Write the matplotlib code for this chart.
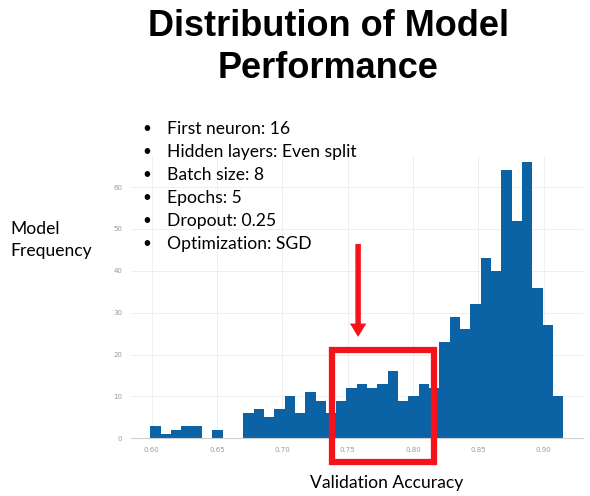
import numpy as np
import matplotlib.pyplot as plt
from matplotlib.patches import Rectangle, FancyArrow

# histogram of validation accuracy (40 bins)
bin_lo, bin_hi = 0.599, 0.915
counts = [3, 1, 2, 3, 3, 0, 2, 0, 0, 6,
          7, 5, 7, 10, 6, 11, 9, 6, 9, 12,
          13, 12, 13, 16, 9, 10, 13, 12, 23, 29,
          26, 32, 43, 40, 64, 52, 66, 36, 27, 10]
xticks = [0.60, 0.65, 0.70, 0.75, 0.80, 0.85, 0.90]
yticks = [0, 10, 20, 30, 40, 50, 60]
bullets = ["First neuron: 16", "Hidden layers: Even split", "Batch size: 8",
           "Epochs: 5", "Dropout: 0.25", "Optimization: SGD"]

edges = np.linspace(bin_lo, bin_hi, len(counts) + 1)

fig = plt.figure(figsize=(5.9, 4.96), dpi=100)
ax = fig.add_axes([0.2215, 0.1163, 0.7665, 0.57])

blue = "#0b63a6"
red = "#f5121b"
ax.bar(edges[:-1], counts, width=np.diff(edges), align="edge", color=blue, linewidth=0)

ax.set_xlim(0.584, 0.930)
ax.set_ylim(0, 67.5)
ax.set_xticks(xticks)
ax.set_xticklabels([f"{t:.2f}" for t in xticks])
ax.set_yticks(yticks)
ax.tick_params(length=0, labelsize=5, labelcolor="#9a9a9a", pad=6)
ax.grid(True, color="#ececec", linewidth=0.6)
ax.set_axisbelow(True)
for s in ["top", "right", "left"]:
    ax.spines[s].set_visible(False)
ax.spines["bottom"].set_color("#d0d0d0")
ax.spines["bottom"].set_linewidth(0.8)

# red highlight box and arrow
box = Rectangle((0.7383, -5.6), 0.0776, 26.7, fill=False, edgecolor=red,
                linewidth=4.5, clip_on=False, zorder=5)
ax.add_patch(box)
ax.add_patch(FancyArrow(0.758, 46.4, 0, -22.2, width=0.0042, head_width=0.0125,
                        head_length=3.2, length_includes_head=True, color=red,
                        clip_on=False, zorder=5, linewidth=0))

fig.text(0.556, 0.982, "Distribution of Model\nPerformance", ha="center", va="top",
         fontsize=26, fontweight="bold", family="Liberation Sans", linespacing=1.28)

for i, b in enumerate(bullets):
    y = 1 - (129 + 22.9 * i) / 496
    fig.text(0.249, y, "\u2022", ha="center", va="center", fontsize=11, family="Lato")
    fig.text(0.283, y, b, ha="left", va="center", fontsize=12.6, family="Lato")

fig.text(0.017, 1 - 240 / 496, "Model\nFrequency", ha="left", va="center",
         fontsize=12.6, family="Lato", linespacing=1.4)
fig.text(0.656, 1 - 483 / 496, "Validation Accuracy", ha="center", va="center",
         fontsize=12.6, family="Lato")

fig.savefig("out.png", dpi=100)
